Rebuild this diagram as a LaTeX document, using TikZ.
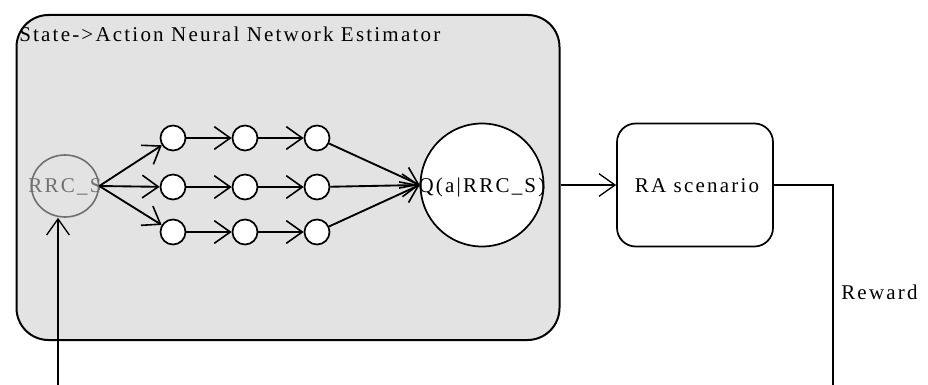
\documentclass[tikz,border=0pt]{standalone}
\usepackage{fontspec}
\setmainfont[LetterSpace=10.5]{Liberation Serif}
\usetikzlibrary{arrows.meta,shapes.geometric}
\definecolor{boxgray}{HTML}{E3E3E3}
\definecolor{dimgray}{HTML}{707070}
\begin{document}
\begin{tikzpicture}[x=0.75pt,y=-0.75pt,
  every node/.style={font=\fontsize{15.75pt}{18pt}\selectfont, inner sep=0pt},
  small/.style={circle, draw=black, line width=1.3pt, fill=white, minimum size=18.75pt},
  narrow/.style={-{Straight Barb[length=12pt,width=17pt,line width=1.2pt]}, line width=1.4pt},
  thinarrow/.style={-{Straight Barb[length=12pt,width=17pt,line width=1pt]}, line width=1pt},
  thinline/.style={line width=1pt}]
\useasboundingbox (0,0) rectangle (928,385);
% big box
\node[draw=black, line width=1.5pt, fill=boxgray, rounded corners=24pt,
  minimum width=543*0.75pt, minimum height=325*0.75pt, anchor=north west] (est) at (15.5,14) {};
\node[anchor=base west] (title) at (19,41.7) {State->Action Neural Network Estimator};
% input ellipse
\node[ellipse, draw=dimgray, line width=1.2pt, minimum width=67*0.75pt, minimum height=62*0.75pt] (rrc) at (65,186) {};
\node[text=dimgray, anchor=base] (rrct) at (65,192.5) {RRC\_S};
% neurons
\node[small] (a1) at (173,138) {};
\node[small] (a2) at (245,138) {};
\node[small] (a3) at (317,138) {};
\node[small] (b1) at (173,187) {};
\node[small] (b2) at (245,187) {};
\node[small] (b3) at (317,187) {};
\node[small] (c1) at (173,232) {};
\node[small] (c2) at (245,232) {};
\node[small] (c3) at (317,232) {};
% output circle
\node[circle, draw=black, line width=1.3pt, fill=white, minimum size=123*0.75pt] (q) at (482,185) {};
\node[anchor=base] (qt) at (482,192.5) {Q(a|RRC\_S)};
% RA scenario
\node[draw=black, line width=1.3pt, fill=white, rounded corners=14pt,
  minimum width=156*0.75pt, minimum height=123*0.75pt] (ra) at (695,185) {};
\node[anchor=base] (rat) at (697,192.3) {RA scenario};
% arrows
\draw[narrow] (rrc.east) -- (a1);
\draw[narrow] (rrc.east) -- (b1);
\draw[narrow] (rrc.east) -- (c1);
\draw[narrow] (a1) -- (a2);
\draw[narrow] (a2) -- (a3);
\draw[narrow] (b1) -- (b2);
\draw[narrow] (b2) -- (b3);
\draw[narrow] (c1) -- (c2);
\draw[narrow] (c2) -- (c3);
\draw[narrow] (a3) -- (q.west);
\draw[narrow] (b3) -- (q.west);
\draw[narrow] (c3) -- (q.west);
\draw[thinarrow] (est.east |- q) -- (ra.west);
% feedback
\coordinate (rb) at (833,385);
\coordinate (lb) at (58,385);
\draw[thinline] (ra.east) -| (rb);
\draw[thinarrow] (lb) -- (lb |- rrc.south);
\node[anchor=base west] (rew) at (841,299) {Reward};
\end{tikzpicture}
\end{document}
